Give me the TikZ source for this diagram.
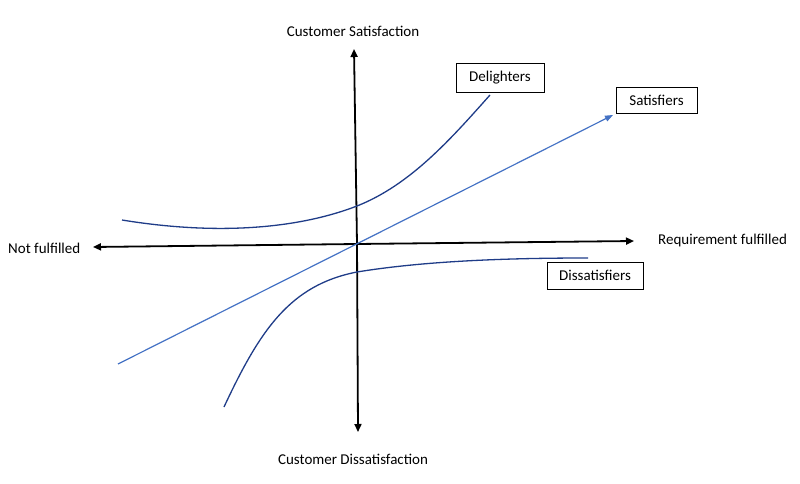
\documentclass[tikz,border=0pt]{standalone}
\usepackage{fontspec}
\setmainfont{Carlito}
\usetikzlibrary{arrows.meta}
\definecolor{darkblue}{HTML}{1F3C88}
\definecolor{midblue}{HTML}{4472C4}
\tikzset{
  axis/.style={line width=1.8pt,-{Triangle[length=8pt,width=7pt]}},
  curve/.style={line width=1.3pt,darkblue},
  lbl/.style={font=\fontsize{15}{17}\selectfont,inner sep=0pt},
  box/.style={draw=black,line width=0.8pt,fill=white,font=\fontsize{15}{17}\selectfont,inner sep=0pt}
}
\begin{document}
\begin{tikzpicture}[x=1pt,y=-1pt]
\useasboundingbox (0,0) rectangle (800,484);
\coordinate (o) at (357,244);
\coordinate (top) at (354,49);
\coordinate (bot) at (358,432);
\coordinate (left) at (93,247);
\coordinate (right) at (634,241);
\draw[axis] (o) -- (top);
\draw[axis] (o) -- (bot);
\draw[axis] (o) -- (left);
\draw[axis] (o) -- (right);
\node[lbl] (cs) at (353,31) {Customer Satisfaction};
\node[lbl] (cd) at (353,459) {Customer Dissatisfaction};
\node[lbl,anchor=west] (nf) at (8,248) {Not fulfilled};
\node[lbl,anchor=west] (rf) at (658,240) {Requirement fulfilled};
\node[box,minimum width=88pt,minimum height=29pt] (del) at (500,77.5) {Delighters};
\node[box,minimum width=81pt,minimum height=26pt] (sat) at (656.5,100) {Satisfiers};
\node[box,minimum width=96pt,minimum height=27pt] (dis) at (595,275.5) {Dissatisfiers};
\coordinate (s0) at (118,364);
\coordinate (s1) at (613,115);
\draw[midblue,line width=1.2pt,-{Triangle[length=8pt,width=6pt]}] (s0) -- (s1);
\coordinate (d0) at (122,220);
\coordinate (d1) at (357,206);
\coordinate (d2) at (490,95);
\draw[curve] (d0) .. controls (220,236) and (300,228) .. (d1) .. controls (410,185) and (450,140) .. (d2);
\coordinate (e0) at (224,407);
\coordinate (e1) at (357,272);
\coordinate (e2) at (588,258);
\draw[curve] (e0) .. controls (260,330) and (290,285) .. (e1) .. controls (430,260) and (520,258) .. (e2);
\end{tikzpicture}
\end{document}
